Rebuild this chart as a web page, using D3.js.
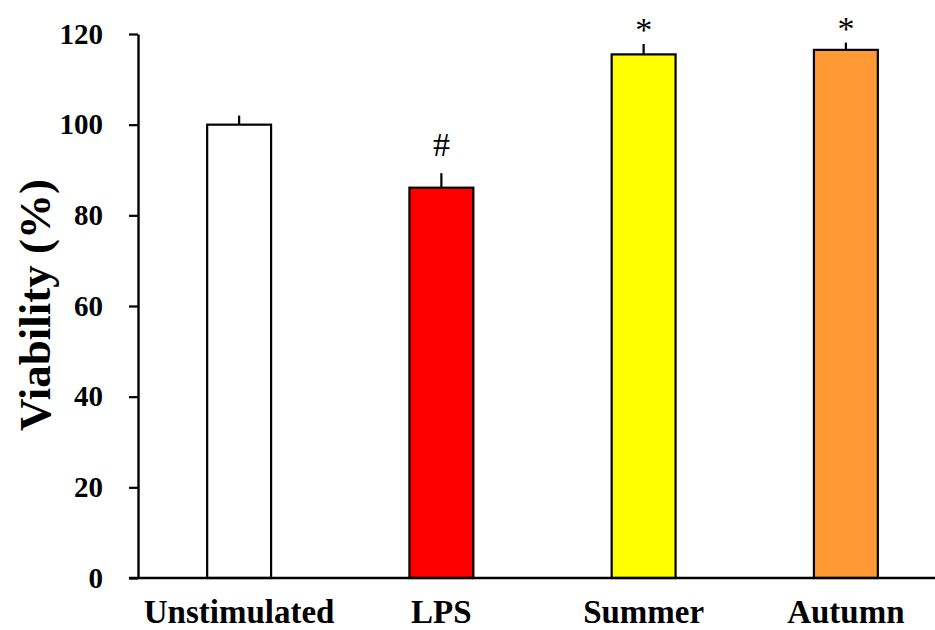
<!DOCTYPE html>
<html>
<head>
<meta charset="utf-8">
<script src="https://cdn.jsdelivr.net/npm/d3@7"></script>
<style>
  html, body { margin: 0; padding: 0; background: #fff; }
  svg { display: block; }
</style>
</head>
<body>
<svg id="chart" width="935" height="630"></svg>
<script>
// Cell viability by treatment group
const categories = ["Unstimulated", "LPS", "Summer", "Autumn"];
const viability = [100, 86.1, 115.5, 116.5];
const errorUp = [2.0, 3.2, 2.3, 1.6];
const markers = ["", "#", "*", "*"];
const barColors = ["#ffffff", "#ff0000", "#ffff00", "#ff9933"];
const yTicks = [0, 20, 40, 60, 80, 100, 120];

const svg = d3.select("#chart");
const font = "'Liberation Serif', 'Times New Roman', serif";

const x0 = 138, xEnd = 947, yBottom = 578, yTop = 34;

const x = d3.scaleBand()
  .domain(categories)
  .range([x0, xEnd])
  .paddingInner(0.684)
  .paddingOuter(0.342);

const y = d3.scaleLinear().domain([0, 120]).range([yBottom, yTop]);

// Bars
svg.append("g").selectAll("rect")
  .data(categories)
  .join("rect")
  .attr("x", d => x(d))
  .attr("y", (d, i) => y(viability[i]))
  .attr("width", x.bandwidth())
  .attr("height", (d, i) => y(0) - y(viability[i]))
  .attr("fill", (d, i) => barColors[i])
  .attr("stroke", "#000")
  .attr("stroke-width", 2.2);

// Upper error bars
svg.append("g").selectAll("line")
  .data(categories)
  .join("line")
  .attr("x1", d => x(d) + x.bandwidth() / 2)
  .attr("x2", d => x(d) + x.bandwidth() / 2)
  .attr("y1", (d, i) => y(viability[i]))
  .attr("y2", (d, i) => y(viability[i] + errorUp[i]))
  .attr("stroke", "#000")
  .attr("stroke-width", 2.2);

// Significance markers
svg.append("g").selectAll("text")
  .data(categories)
  .join("text")
  .attr("x", d => x(d) + x.bandwidth() / 2)
  .attr("y", (d, i) => y(viability[i] + errorUp[i]) - (markers[i] === "#" ? 17 : 3))
  .attr("text-anchor", "middle")
  .attr("font-family", font)
  .attr("font-size", 34)
  .attr("fill", "#000")
  .text((d, i) => markers[i]);

// Y axis
const yAxis = d3.axisLeft(y).tickValues(yTicks).tickSize(9).tickPadding(26).tickSizeOuter(0);
const gy = svg.append("g").attr("transform", `translate(${x0},0)`).call(yAxis);
gy.select(".domain").attr("stroke", "#000").attr("stroke-width", 2.4);
gy.selectAll(".tick line").attr("stroke", "#000").attr("stroke-width", 2.2);
gy.selectAll(".tick text")
  .attr("font-family", font)
  .attr("font-weight", "bold")
  .attr("font-size", 29)
  .attr("fill", "#000");

// X axis line
svg.append("line")
  .attr("x1", x0 - 9).attr("x2", 935)
  .attr("y1", yBottom).attr("y2", yBottom)
  .attr("stroke", "#000").attr("stroke-width", 2.4);

// Category labels
svg.append("g").selectAll("text")
  .data(categories)
  .join("text")
  .attr("x", d => x(d) + x.bandwidth() / 2)
  .attr("y", 623)
  .attr("text-anchor", "middle")
  .attr("font-family", font)
  .attr("font-weight", "bold")
  .attr("font-size", 33)
  .attr("fill", "#000")
  .text(d => d);

// Y axis title
svg.append("text")
  .attr("transform", "translate(50,305) rotate(-90)")
  .attr("text-anchor", "middle")
  .attr("font-family", font)
  .attr("font-weight", "bold")
  .attr("font-size", 45)
  .attr("fill", "#000")
  .text("Viability (%)");
</script>
</body>
</html>
